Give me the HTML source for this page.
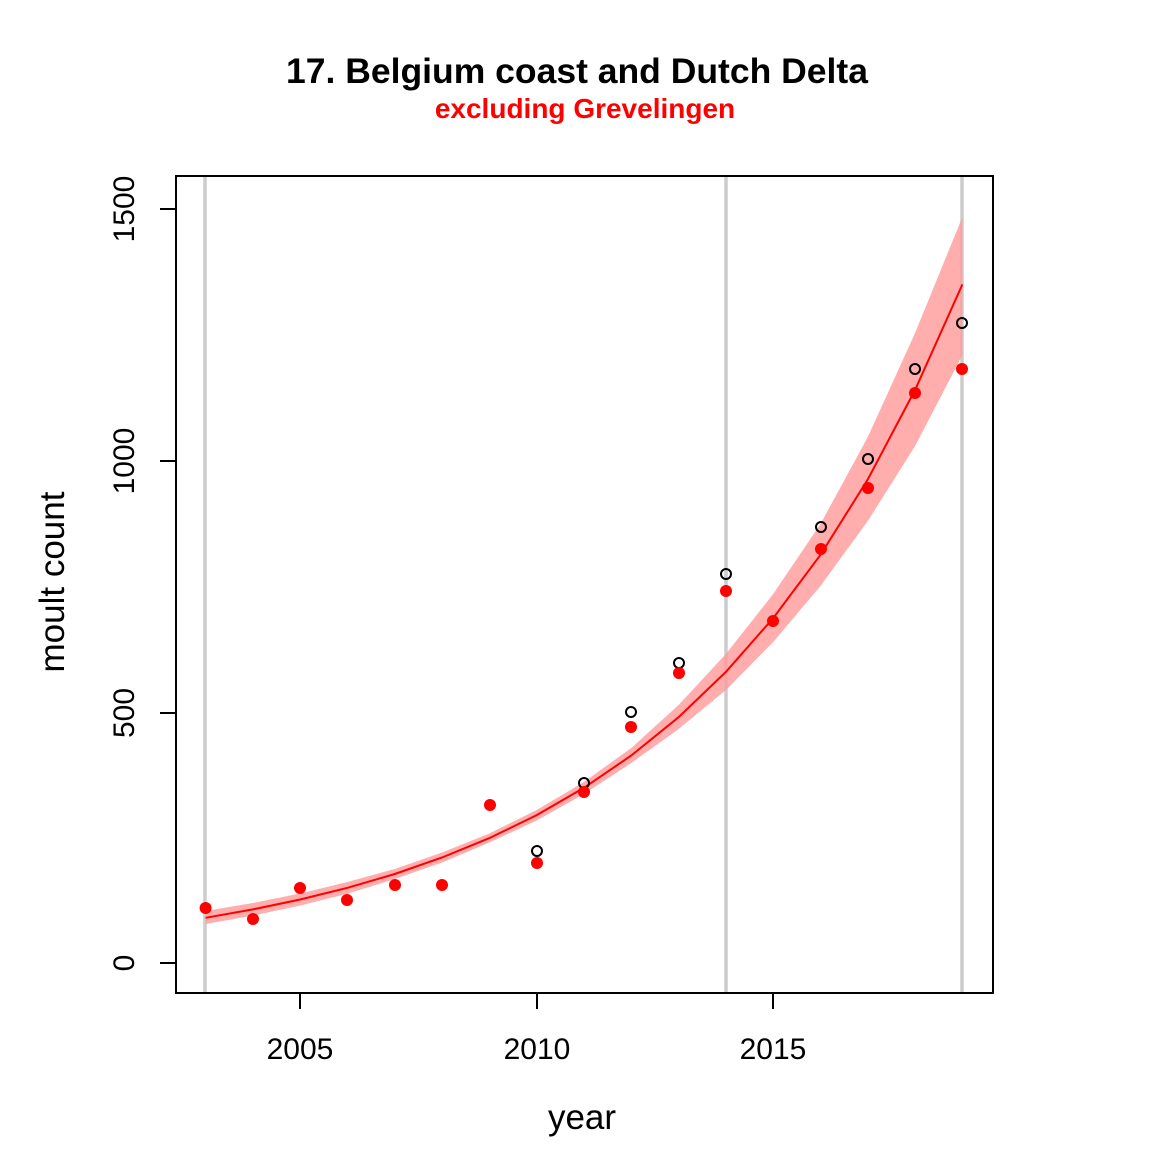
<!DOCTYPE html>
<html><head><meta charset="utf-8"><style>body{margin:0;background:#fff}svg{display:block}text{font-family:"Liberation Sans",Arial,sans-serif}</style></head>
<body>
<svg width="1170" height="1170" viewBox="0 0 1170 1170" xmlns="http://www.w3.org/2000/svg">
<rect width="1170" height="1170" fill="#fff"/>
<text x="577" y="83" font-size="35.5" font-weight="bold" text-anchor="middle">17. Belgium coast and Dutch Delta</text>
<text x="585" y="118" font-size="28" font-weight="bold" fill="#ff0000" text-anchor="middle">excluding Grevelingen</text>
<g stroke="#cccccc" stroke-width="3.5">
<line x1="205" y1="176" x2="205" y2="993"/>
<line x1="726" y1="176" x2="726" y2="993"/>
<line x1="962" y1="176" x2="962" y2="993"/>
</g>
<polygon fill="#ff9999" fill-opacity="0.8" points="205.6,911 252.9,903 300.2,893.5 347.5,882 394.8,869 442.1,852.5 489.4,833.5 536.7,810 584,782 631.3,748 678.6,705 725.9,654 773.2,594 820.5,524 867.8,437 915.1,333 962.4,217 962.4,355 915.1,446 867.8,521 820.5,586 773.2,642 725.9,690 678.6,729 631.3,763 584,794 536.7,820.5 489.4,842.5 442.1,862.5 394.8,879 347.5,893.6 300.2,905.5 252.9,915.6 205.6,924"/>
<polyline fill="none" stroke="#ff0000" stroke-width="2" points="205.6,917.8 252.9,909.4 300.2,899.5 347.5,887.8 394.8,874 442.1,857.5 489.4,838.1 536.7,815.1 584,787.8 631.3,755.5 678.6,717.2 725.9,671.9 773.2,618.1 820.5,554.8 867.8,479.4 915.1,389.9 962.4,284.4"/>
<g fill="none" stroke="#000" stroke-width="2">
<circle cx="537" cy="851" r="5"/><circle cx="584" cy="783" r="5"/><circle cx="631" cy="712" r="5"/><circle cx="679" cy="663" r="5"/><circle cx="726" cy="574" r="5"/><circle cx="821" cy="527" r="5"/><circle cx="868" cy="459" r="5"/><circle cx="915" cy="369" r="5"/><circle cx="962" cy="323" r="5"/>
</g>
<g fill="#ff0000">
<circle cx="205.6" cy="908" r="6"/><circle cx="253" cy="919" r="6"/><circle cx="300" cy="888" r="6"/><circle cx="347" cy="900" r="6"/><circle cx="395" cy="885" r="6"/><circle cx="442" cy="885" r="6"/><circle cx="490" cy="805" r="6"/><circle cx="537" cy="863" r="6"/><circle cx="584" cy="792" r="6"/><circle cx="631" cy="727" r="6"/><circle cx="679" cy="673" r="6"/><circle cx="726" cy="591" r="6"/><circle cx="773" cy="621" r="6"/><circle cx="821" cy="549" r="6"/><circle cx="868" cy="488" r="6"/><circle cx="915" cy="393" r="6"/><circle cx="962" cy="369" r="6"/>
</g>
<rect x="176" y="176" width="817" height="817" fill="none" stroke="#000" stroke-width="2"/>
<g stroke="#000" stroke-width="2">
<line x1="160" y1="963" x2="176" y2="963"/><line x1="160" y1="713" x2="176" y2="713"/><line x1="160" y1="461" x2="176" y2="461"/><line x1="160" y1="209" x2="176" y2="209"/>
<line x1="300" y1="993" x2="300" y2="1009"/><line x1="537" y1="993" x2="537" y2="1009"/><line x1="773" y1="993" x2="773" y2="1009"/>
</g>
<g font-size="30" text-anchor="middle">
<text x="300" y="1059">2005</text><text x="537" y="1059">2010</text><text x="773" y="1059">2015</text>
<text transform="translate(134,963) rotate(-90)">0</text>
<text transform="translate(134,713) rotate(-90)">500</text>
<text transform="translate(134,461) rotate(-90)">1000</text>
<text transform="translate(134,209) rotate(-90)">1500</text>
<text x="582" y="1129" font-size="35">year</text>
<text transform="translate(64,582) rotate(-90)" font-size="35">moult count</text>
</g>
</svg>
</body></html>
